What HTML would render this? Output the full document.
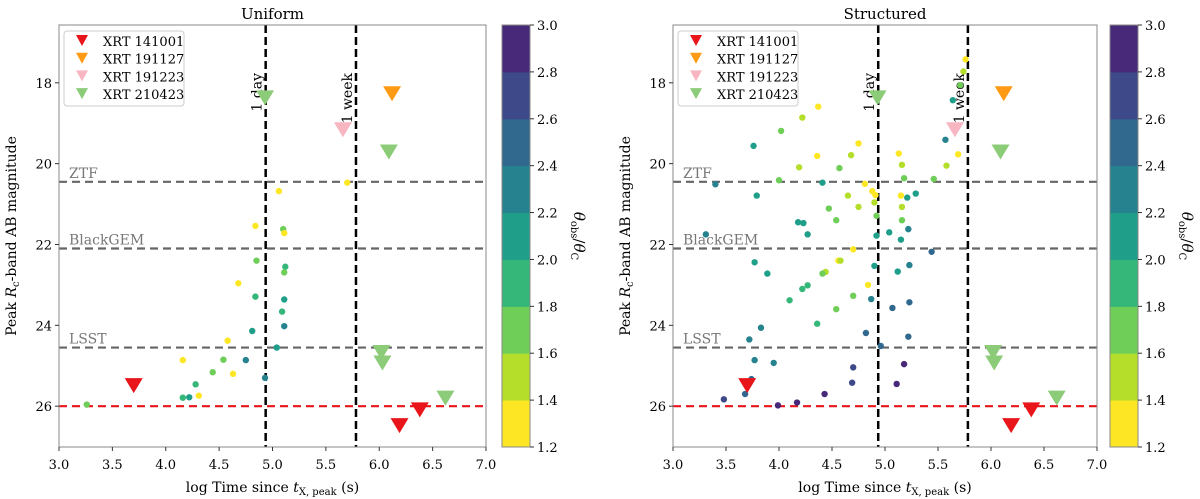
<!DOCTYPE html>
<html><head><meta charset="utf-8"><style>
body{margin:0;background:#fff;}
svg{display:block;font-family:"DejaVu Serif","Liberation Serif",serif;}
</style></head><body>
<svg id="fig" width="1200" height="499" xmlns="http://www.w3.org/2000/svg"></svg>
<script>
// ---- data ----
const xTicks=[3.0,3.5,4.0,4.5,5.0,5.5,6.0,6.5,7.0];
const yTicks=[18,20,22,24,26];
const cbTicks=[1.2,1.4,1.6,1.8,2.0,2.2,2.4,2.6,2.8,3.0];
const surveyNames=["ZTF","BlackGEM","LSST"];
const surveyMags=[20.45,22.1,24.55];
const redLimit=26.0;
const dayWeek=[4.936,5.782];
const dayWeekLabels=["1 day","1 week"];
const legendNames=["XRT 141001","XRT 191127","XRT 191223","XRT 210423"];
const legendColors=["#e8161b","#ff9a14","#f7b6c2","#8ccc78"];
const trigX=[3.70,6.38,6.19,6.12,5.66,4.93,6.09,6.02,6.03,6.62];
const trigY=[25.48,26.08,26.47,18.26,19.15,18.36,19.7,24.66,24.92,25.79];
const trigS=[0,0,0,1,2,3,3,3,3,3];
const uniX=[3.26,4.16,4.16,4.22,4.28,4.31,4.44,4.54,4.58,4.63,4.68,4.75,4.81,4.84,4.85,4.84,4.93,5.04,5.06,5.10,5.11,5.12,5.11,5.11,5.09,5.11,5.70];
const uniY=[25.96,24.86,25.79,25.78,25.46,25.74,25.16,24.85,24.38,25.2,22.96,24.86,24.14,21.54,22.4,23.29,25.3,24.55,20.68,21.62,21.72,22.55,22.69,23.36,23.66,24.02,20.47];
const uniC=[1.6,1.3,1.9,2.1,1.8,1.3,1.6,1.6,1.3,1.3,1.3,2.2,2.1,1.3,1.6,1.8,2.2,2.1,1.3,1.6,1.3,1.9,1.6,2.1,1.8,2.2,1.3];
const strX=[5.76,5.74,5.71,5.64,5.57,5.69,5.58,5.46,5.29,5.22,5.21,5.15,5.16,5.16,5.15,5.04,5.18,5.16,5.13,5.44,5.23,5.12,4.90,4.92,4.92,4.90,4.91,4.88,4.81,4.75,4.68,4.65,4.75,4.57,4.47,4.54,4.37,4.22,4.36,4.19,4.02,4.00,4.41,3.76,3.79,3.40,3.31,4.18,4.23,4.27,3.77,3.89,4.70,4.56,4.58,4.44,4.41,4.27,4.22,4.10,4.84,4.70,4.54,4.87,5.07,5.23,4.36,3.83,3.72,4.82,5.22,4.96,3.77,3.95,3.74,5.18,4.70,4.69,5.11,4.43,4.17,3.99,3.68,3.48];
const strY=[17.42,17.72,18.06,18.43,19.41,19.77,20.05,20.38,20.74,21.62,20.84,20.79,21.07,21.4,21.88,21.7,20.36,20.03,19.75,22.18,22.51,22.67,22.53,21.78,21.29,20.96,20.78,20.68,20.5,19.5,19.79,20.79,21.07,20.11,21.11,21.4,18.59,18.86,19.81,20.09,19.19,20.41,20.47,19.56,20.79,20.51,21.75,21.45,21.47,21.75,22.44,22.72,22.12,22.4,22.4,22.68,22.72,23.01,23.1,23.38,23.0,23.27,23.6,23.35,23.57,23.43,23.96,24.06,24.35,24.19,24.28,24.51,24.86,24.93,25.33,24.96,25.04,25.42,25.45,25.7,25.91,25.98,25.7,25.83];
const strC=[1.3,1.5,1.7,2.1,2.2,1.3,1.5,1.7,2.0,2.2,2.0,1.3,1.5,1.7,2.0,2.1,1.7,1.5,1.3,2.4,2.2,2.1,2.1,2.0,1.7,1.5,1.3,1.3,1.3,1.3,1.5,1.5,1.5,1.7,1.7,1.7,1.3,1.5,1.3,1.5,1.7,1.6,2.0,2.1,2.0,2.2,2.2,2.1,2.0,2.0,2.1,2.1,1.3,1.3,1.5,1.5,1.6,1.8,1.9,1.9,1.3,1.6,1.7,2.3,2.4,2.5,1.8,2.2,2.2,2.5,2.5,2.5,2.3,2.2,2.5,2.8,2.7,2.6,2.9,2.8,2.9,2.9,2.5,2.6];
const bandColors=["#fde725","#b5de2b","#6ece58","#35b779","#1f9e89","#26828e","#31688e","#3e4989","#482878"];

const NS="http://www.w3.org/2000/svg";
const svg=document.getElementById('fig');
function mk(tag,attrs,parent,text){const e=document.createElementNS(NS,tag);for(const k in attrs)e.setAttribute(k,attrs[k]);if(text!==undefined)e.textContent=text;(parent||svg).appendChild(e);return e;}
function colorOf(c){let i=Math.floor((c-1.2)/0.2+1e-6);i=Math.max(0,Math.min(8,i));return bandColors[i];}
const T=25,B=447,yMin=16.57,yMax=27.01;
function panel(L,R,cbL,title,X,Y,C){
  const g=mk('g',{});
  
  
  const sx=v=>L+(v-3)/4*(R-L);
  const sy=v=>T+(v-yMin)/(yMax-yMin)*(B-T);
  const t=mk('text',{x:(L+R)/2,y:19,'text-anchor':'middle','font-size':15},g,title);
  
  surveyMags.forEach((m,i)=>{
    const l=mk('line',{x1:L,x2:R,y1:sy(m),y2:sy(m),stroke:'#666','stroke-width':2.2,'stroke-dasharray':'8,5'},g);
    
    const tx=mk('text',{x:L+10,y:sy(m)-4,'font-size':14,fill:'#777'},g,surveyNames[i]);
    
  });
  const rl=mk('line',{x1:L,x2:R,y1:sy(redLimit),y2:sy(redLimit),stroke:'#e8161b','stroke-width':2.2,'stroke-dasharray':'8,5'},g);
  
  dayWeek.forEach((d,i)=>{
    const l=mk('line',{x1:sx(d),x2:sx(d),y1:T,y2:B,stroke:'#000','stroke-width':2.5,'stroke-dasharray':'8,4'},g);
    
    const tx=mk('text',{x:0,y:0,'font-size':14,'text-anchor':'end',transform:`translate(${sx(d)-4},${T+48}) rotate(-90)`},g,dayWeekLabels[i]);
    
  });
  X.forEach((x,i)=>{
    const c=mk('circle',{cx:sx(x),cy:sy(Y[i]),r:3.2,fill:colorOf(C[i])},g);
    
  });
  trigX.forEach((x,i)=>{
    const cx=sx(x),cy=sy(trigY[i]);
    const p=mk('polygon',{points:`${cx-9},${cy-7} ${cx+9},${cy-7} ${cx},${cy+8}`,fill:legendColors[trigS[i]]},g);
    
  });
  const fr=mk('rect',{x:L,y:T,width:R-L,height:B-T,fill:'none',stroke:'#888','stroke-width':1},g);
  
  xTicks.forEach(v=>{
    mk('line',{x1:sx(v),x2:sx(v),y1:B,y2:B+4,stroke:'#333'},g);
    const tx=mk('text',{x:sx(v),y:B+22,'text-anchor':'middle','font-size':13},g,v.toFixed(1));
    
  });
  yTicks.forEach(v=>{
    mk('line',{x1:L-4,x2:L,y1:sy(v),y2:sy(v),stroke:'#333'},g);
    const tx=mk('text',{x:L-7,y:sy(v)+5,'text-anchor':'end','font-size':13},g,String(v));
    
  });
  const xl=mk('text',{x:(L+R)/2,y:492,'text-anchor':'middle','font-size':14},g);
  xl.innerHTML='log Time since <tspan font-style="italic">t</tspan><tspan font-size="10" dy="3">X, peak</tspan><tspan dy="-3"> (s)</tspan>';
  
  const yl=mk('text',{x:0,y:0,'text-anchor':'middle','font-size':14,transform:`translate(${L-43},${(T+B)/2}) rotate(-90)`},g);
  yl.innerHTML='Peak <tspan font-style="italic">R</tspan><tspan font-size="10" dy="3">c</tspan><tspan dy="-3">-band AB magnitude</tspan>';
  
  const lg=mk('g',{},g);
  
  mk('rect',{x:L+5,y:31,width:120,height:75,rx:3,fill:'#fff',stroke:'#ccc'},lg);
  legendNames.forEach((n,i)=>{
    const y=41+i*17.7,cx=L+23;
    const e=mk('g',{},lg);
    
    mk('polygon',{points:`${cx-6},${y-6} ${cx+6},${y-6} ${cx},${y+5}`,fill:legendColors[i]},e);
    mk('text',{x:L+44,y:y+5,'font-size':13},e,n);
  });
  const cb=mk('g',{},g);
  
  const cy=v=>B-(v-1.2)/1.8*(B-T);
  bandColors.forEach((c,i)=>{mk('rect',{x:cbL,y:cy(1.4+i*0.2),width:28,height:cy(1.2+i*0.2)-cy(1.4+i*0.2)+0.5,fill:c},cb);});
  mk('rect',{x:cbL,y:T,width:28,height:B-T,fill:'none',stroke:'#888'},cb);
  cbTicks.forEach(v=>{
    mk('line',{x1:cbL+28,x2:cbL+32,y1:cy(v),y2:cy(v),stroke:'#333'},cb);
    const tx=mk('text',{x:cbL+35,y:cy(v)+5,'font-size':13},cb,v.toFixed(1));
    
  });
  const ct=mk('text',{x:0,y:0,'text-anchor':'middle','font-size':15,transform:`translate(${cbL+72},${(T+B)/2}) rotate(90)`},cb);
  ct.innerHTML='<tspan font-style="italic">θ</tspan><tspan font-size="10" dy="3">obs</tspan><tspan dy="-3">/</tspan><tspan font-style="italic">θ</tspan><tspan font-size="10" dy="3">C</tspan>';
  
}
panel(59,486,502,'Uniform',uniX,uniY,uniC);
panel(673,1097,1110,'Structured',strX,strY,strC);
</script>
</body></html>
